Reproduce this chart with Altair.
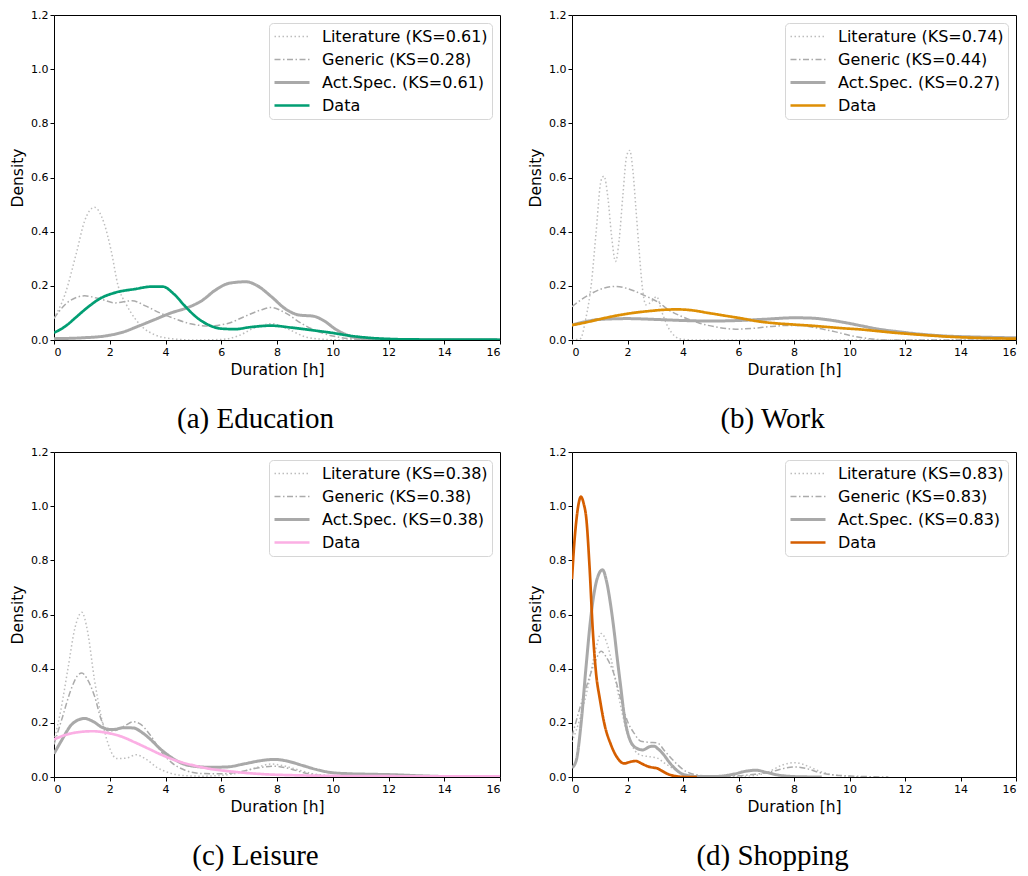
import altair as alt
import pandas as pd

# ---------------- data ----------------
# (a) Education
EDU_LIT_X = [0, 0.4, 0.8, 1.1, 1.45, 1.8, 2.05, 2.3, 2.6, 2.9, 3.2, 3.6, 4.2, 5.0, 6.0, 6.6, 7.2, 7.8, 8.4, 9.0, 9.6, 10.5, 16]
EDU_LIT_Y = [0.08, 0.17, 0.32, 0.44, 0.49, 0.43, 0.33, 0.2, 0.13, 0.08, 0.045, 0.02, 0.005, 0.0, 0.002, 0.015, 0.045, 0.06, 0.04, 0.012, 0.003, 0.0, 0.0]
EDU_GEN_X = [0, 0.5, 1.1, 1.7, 2.2, 2.8, 3.3, 3.8, 4.3, 4.9, 5.5, 6.2, 6.8, 7.4, 7.8, 8.3, 8.9, 9.5, 10.0, 10.6, 11.5, 16]
EDU_GEN_Y = [0.08, 0.14, 0.163, 0.15, 0.137, 0.145, 0.125, 0.1, 0.08, 0.06, 0.052, 0.06, 0.085, 0.11, 0.12, 0.1, 0.06, 0.03, 0.015, 0.005, 0.0, 0.0]
EDU_ACT_X = [0, 1.0, 1.9, 2.5, 3.0, 3.6, 4.2, 4.8, 5.3, 5.8, 6.3, 6.9, 7.3, 7.8, 8.3, 8.8, 9.3, 9.7, 10.1, 10.6, 11.2, 12.0, 16]
EDU_ACT_Y = [0.005, 0.008, 0.016, 0.03, 0.05, 0.075, 0.1, 0.12, 0.145, 0.185, 0.21, 0.215, 0.2, 0.16, 0.115, 0.092, 0.088, 0.07, 0.04, 0.015, 0.004, 0.0, 0.0]
EDU_DATA_X = [0, 0.4, 0.8, 1.2, 1.65, 2.2, 2.9, 3.5, 3.9, 4.3, 4.7, 5.1, 5.5, 6.0, 6.5, 7.0, 7.8, 8.5, 9.2, 10.0, 10.6, 11.2, 12.0, 13.0, 16]
EDU_DATA_Y = [0.027, 0.05, 0.085, 0.12, 0.153, 0.175, 0.188, 0.197, 0.197, 0.17, 0.125, 0.085, 0.058, 0.042, 0.04, 0.047, 0.053, 0.046, 0.037, 0.026, 0.016, 0.009, 0.004, 0.002, 0.001]

# (b) Work
WORK_LIT_X = [0, 0.3, 0.5, 0.7, 0.87, 1.05, 1.15, 1.3, 1.42, 1.57, 1.7, 1.83, 1.97, 2.08, 2.2, 2.3, 2.42, 2.54, 2.66, 2.85, 3.05, 3.25, 3.45, 3.7, 4.0, 4.5, 16]
WORK_LIT_Y = [0, 0.005, 0.08, 0.21, 0.4, 0.59, 0.605, 0.52, 0.39, 0.29, 0.37, 0.53, 0.68, 0.7, 0.62, 0.49, 0.33, 0.19, 0.13, 0.14, 0.16, 0.1, 0.05, 0.015, 0.002, 0.0, 0.0]
WORK_GEN_X = [0, 0.35, 0.7, 1.1, 1.55, 2.0, 2.6, 3.1, 3.5, 4.0, 4.6, 5.2, 5.9, 6.5, 7.2, 7.8, 8.3, 8.9, 9.5, 10.1, 10.7, 11.5, 16]
WORK_GEN_Y = [0.123, 0.15, 0.172, 0.19, 0.198, 0.19, 0.165, 0.14, 0.11, 0.085, 0.062, 0.048, 0.04, 0.043, 0.05, 0.054, 0.053, 0.043, 0.03, 0.015, 0.005, 0.0, 0.0]
WORK_ACT_X = [0, 0.5, 1.0, 2.0, 3.0, 4.0, 5.0, 6.0, 7.0, 8.0, 8.6, 9.2, 9.8, 10.4, 11.0, 11.8, 12.6, 13.4, 14.2, 15.0, 16]
WORK_ACT_Y = [0.055, 0.068, 0.076, 0.079, 0.076, 0.072, 0.07, 0.072, 0.077, 0.082, 0.081, 0.075, 0.065, 0.053, 0.041, 0.03, 0.021, 0.015, 0.012, 0.01, 0.008]
WORK_DATA_X = [0, 0.5, 1.0, 1.6, 2.2, 2.8, 3.4, 3.8, 4.3, 4.9, 5.5, 6.1, 6.7, 7.3, 8.0, 8.6, 9.2, 9.8, 10.4, 11.0, 11.6, 12.2, 13.0, 13.8, 14.6, 15.3, 16]
WORK_DATA_Y = [0.055, 0.065, 0.077, 0.09, 0.1, 0.107, 0.112, 0.113, 0.11, 0.1, 0.09, 0.08, 0.069, 0.062, 0.057, 0.053, 0.048, 0.043, 0.039, 0.033, 0.027, 0.022, 0.016, 0.011, 0.008, 0.006, 0.005]

# (c) Leisure
LEI_LIT_X = [0, 0.25, 0.5, 0.75, 1.0, 1.2, 1.45, 1.7, 1.95, 2.25, 2.6, 2.95, 3.3, 3.7, 4.15, 4.7, 5.3, 6.0, 6.6, 7.2, 7.8, 8.3, 8.8, 9.3, 9.9, 10.5, 16]
LEI_LIT_Y = [0.133, 0.25, 0.4, 0.55, 0.608, 0.54, 0.36, 0.22, 0.12, 0.068, 0.07, 0.082, 0.066, 0.035, 0.015, 0.005, 0.003, 0.006, 0.015, 0.033, 0.048, 0.04, 0.025, 0.012, 0.005, 0.0, 0.0]
LEI_GEN_X = [0, 0.3, 0.6, 0.85, 1.0, 1.2, 1.45, 1.7, 1.95, 2.2, 2.55, 2.85, 3.1, 3.45, 3.8, 4.2, 4.7, 5.3, 6.0, 6.7, 7.3, 7.9, 8.4, 9.0, 9.6, 10.3, 16]
LEI_GEN_Y = [0.12, 0.22, 0.32, 0.375, 0.384, 0.36, 0.3, 0.21, 0.17, 0.172, 0.19, 0.204, 0.195, 0.155, 0.1, 0.055, 0.025, 0.013, 0.012, 0.02, 0.033, 0.04, 0.032, 0.015, 0.005, 0.001, 0.0]
LEI_ACT_X = [0, 0.3, 0.6, 0.9, 1.1, 1.4, 1.75, 2.1, 2.5, 2.85, 3.15, 3.45, 3.8, 4.2, 4.6, 5.0, 5.6, 6.2, 6.8, 7.4, 7.9, 8.4, 8.9, 9.4, 9.9, 10.6, 11.5, 12.3, 13.0, 14.0, 16]
LEI_ACT_Y = [0.086, 0.14, 0.19, 0.212, 0.216, 0.205, 0.182, 0.175, 0.182, 0.181, 0.165, 0.14, 0.105, 0.073, 0.05, 0.04, 0.036, 0.037, 0.048, 0.06, 0.065, 0.058, 0.043, 0.028, 0.017, 0.012, 0.01, 0.008, 0.005, 0.002, 0.001]
LEI_DATA_X = [0, 0.5, 1.0, 1.4, 1.9, 2.4, 2.9, 3.4, 3.9, 4.4, 5.0, 5.6, 6.3, 7.0, 7.8, 8.8, 10.0, 12.0, 14.0, 16]
LEI_DATA_Y = [0.139, 0.158, 0.167, 0.169, 0.163, 0.15, 0.128, 0.104, 0.08, 0.06, 0.043, 0.03, 0.021, 0.014, 0.009, 0.006, 0.004, 0.003, 0.002, 0.002]

# (d) Shopping
SHOP_LIT_X = [0, 0.3, 0.57, 0.85, 1.05, 1.2, 1.4, 1.6, 1.8, 2.0, 2.25, 2.5, 2.8, 3.07, 3.35, 3.67, 4.0, 4.4, 5.0, 6.0, 6.6, 7.1, 7.6, 8.05, 8.5, 8.9, 9.4, 10.0, 10.5]
SHOP_LIT_Y = [0.13, 0.22, 0.33, 0.47, 0.53, 0.51, 0.44, 0.34, 0.24, 0.157, 0.1, 0.08, 0.075, 0.07, 0.05, 0.03, 0.012, 0.004, 0.001, 0.002, 0.006, 0.02, 0.045, 0.053, 0.04, 0.022, 0.008, 0.002, 0.0]
SHOP_GEN_X = [0, 0.3, 0.57, 0.85, 1.05, 1.25, 1.52, 1.75, 2.0, 2.25, 2.48, 2.8, 3.07, 3.35, 3.67, 4.0, 4.38, 5.0, 6.0, 6.6, 7.2, 7.7, 8.07, 8.5, 8.9, 9.4, 10.0, 10.8, 11.4]
SHOP_GEN_Y = [0.15, 0.26, 0.35, 0.43, 0.464, 0.44, 0.378, 0.29, 0.206, 0.16, 0.132, 0.128, 0.126, 0.095, 0.059, 0.028, 0.01, 0.003, 0.005, 0.01, 0.02, 0.033, 0.037, 0.03, 0.017, 0.008, 0.004, 0.001, 0.0]
SHOP_ACT_X = [0, 0.15, 0.33, 0.5, 0.69, 0.9, 1.1, 1.25, 1.4, 1.52, 1.64, 1.76, 1.88, 2.06, 2.3, 2.55, 2.8, 2.95, 3.1, 3.3, 3.5, 3.7, 4.0, 4.5, 5.2, 5.8, 6.3, 6.64, 7.0, 7.5, 8.2, 9.0]
SHOP_ACT_Y = [0.034, 0.06, 0.2, 0.4, 0.6, 0.73, 0.765, 0.72, 0.63, 0.537, 0.43, 0.33, 0.23, 0.145, 0.108, 0.1, 0.112, 0.114, 0.104, 0.083, 0.055, 0.032, 0.01, 0.002, 0.002, 0.01, 0.022, 0.025, 0.017, 0.006, 0.001, 0.0]
SHOP_DATA_X = [0, 0.08, 0.16, 0.24, 0.32, 0.42, 0.52, 0.63, 0.75, 0.87, 1.0, 1.17, 1.4, 1.64, 1.88, 2.1, 2.3, 2.5, 2.71, 2.9, 3.07, 3.25, 3.43, 3.6, 3.8, 4.1, 4.5]
SHOP_DATA_Y = [0.73, 0.86, 0.95, 1.01, 1.035, 1.01, 0.95, 0.78, 0.54, 0.38, 0.29, 0.195, 0.12, 0.07, 0.05, 0.056, 0.059, 0.05, 0.04, 0.035, 0.032, 0.022, 0.012, 0.006, 0.002, 0.0, 0.0]

KS_EDU = ["0.61", "0.28", "0.61"]
KS_WORK = ["0.74", "0.44", "0.27"]
KS_LEI = ["0.38", "0.38", "0.38"]
KS_SHOP = ["0.83", "0.83", "0.83"]

CAPTIONS = ["(a) Education", "(b) Work", "(c) Leisure", "(d) Shopping"]
DATA_COLORS = ["#029e73", "#de8f05", "#fbafe4", "#d55e00"]

X_TICKS = list(range(0, 17, 2))
Y_TICKS = [0.0, 0.2, 0.4, 0.6, 0.8, 1.0, 1.2]

GRAY_LIT = "#bdbdbd"
GRAY_GEN = "#ababab"
GRAY_ACT = "#a9a9a9"
DASHES = [[1.5, 2.5], [6, 2.5, 1.5, 2.5], [1, 0], [1, 0]]
WIDTHS = [1.5, 1.5, 3.0, 2.7]

FONT = "DejaVu Sans"


def panel(ks, series, data_color, caption, width):
    labels = [
        f"Literature (KS={ks[0]})",
        f"Generic (KS={ks[1]})",
        f"Act.Spec. (KS={ks[2]})",
        "Data",
    ]
    colors = [GRAY_LIT, GRAY_GEN, GRAY_ACT, data_color]
    legend = alt.Legend(
        orient="top-right",
        offset=8,
        symbolType="stroke",
        symbolSize=1225,
        clipHeight=19,
        labelFontSize=16,
        labelFont=FONT,
        labelColor="#000000",
        labelLimit=400,
        labelOffset=11,
        rowPadding=4,
        padding=4,
        strokeColor="#d6d6d6",
        cornerRadius=4,
        fillColor="#ffffff",
    )
    layers = []
    for lab, (xs, ys) in zip(labels, series):
        df = pd.DataFrame({"x": xs, "y": ys, "s": lab})
        layers.append(
            alt.Chart(df)
            .mark_line(interpolate="monotone", clip=True)
            .encode(
                x=alt.X(
                    "x:Q",
                    scale=alt.Scale(domain=[0, 16], nice=False, zero=False),
                    axis=alt.Axis(values=X_TICKS, title="Duration [h]"),
                ),
                y=alt.Y(
                    "y:Q",
                    scale=alt.Scale(domain=[0, 1.2], nice=False),
                    axis=alt.Axis(values=Y_TICKS, format=".1f", title="Density"),
                ),
                color=alt.Color("s:N", title=None,
                                scale=alt.Scale(type="ordinal", domain=labels, range=colors), legend=legend),
                strokeDash=alt.StrokeDash("s:N", title=None,
                                          scale=alt.Scale(type="ordinal", domain=labels, range=DASHES), legend=legend),
                strokeWidth=alt.StrokeWidth("s:N", title=None,
                                            scale=alt.Scale(type="ordinal", domain=labels, range=WIDTHS), legend=legend),
            )
        )
    return alt.layer(*layers).properties(
        width=width,
        height=325,
        title=alt.TitleParams(
            caption,
            orient="bottom",
            anchor="middle",
            frame="bounds",
            font="Liberation Serif",
            fontSize=29,
            fontWeight="normal",
            color="#000000",
            offset=27,
        ),
    )


pa = panel(KS_EDU, [(EDU_LIT_X, EDU_LIT_Y), (EDU_GEN_X, EDU_GEN_Y), (EDU_ACT_X, EDU_ACT_Y), (EDU_DATA_X, EDU_DATA_Y)], DATA_COLORS[0], CAPTIONS[0], 446)
pb = panel(KS_WORK, [(WORK_LIT_X, WORK_LIT_Y), (WORK_GEN_X, WORK_GEN_Y), (WORK_ACT_X, WORK_ACT_Y), (WORK_DATA_X, WORK_DATA_Y)], DATA_COLORS[1], CAPTIONS[1], 444)
pc = panel(KS_LEI, [(LEI_LIT_X, LEI_LIT_Y), (LEI_GEN_X, LEI_GEN_Y), (LEI_ACT_X, LEI_ACT_Y), (LEI_DATA_X, LEI_DATA_Y)], DATA_COLORS[2], CAPTIONS[2], 446)
pd_ = panel(KS_SHOP, [(SHOP_LIT_X, SHOP_LIT_Y), (SHOP_GEN_X, SHOP_GEN_Y), (SHOP_ACT_X, SHOP_ACT_Y), (SHOP_DATA_X, SHOP_DATA_Y)], DATA_COLORS[3], CAPTIONS[3], 444)

RES = dict(color="independent", strokeDash="independent", strokeWidth="independent")
row1 = alt.hconcat(pa, pb, spacing=27).resolve_scale(**RES).resolve_legend(**RES)
row2 = alt.hconcat(pc, pd_, spacing=27).resolve_scale(**RES).resolve_legend(**RES)

chart = (
    alt.vconcat(row1, row2, spacing=11)
    .resolve_scale(**RES)
    .resolve_legend(**RES)
    .properties(padding={"left": 10, "top": 8, "right": 0, "bottom": 0}, background="#ffffff")
    .configure_view(stroke="#000000", strokeWidth=1)
    .configure_axis(
        grid=False,
        domain=False,
        tickColor="#000000",
        tickSize=4,
        labelFont=FONT,
        labelFontSize=11,
        labelColor="#000000",
        labelPadding=2,
        titleFont=FONT,
        titleFontSize=15.5,
        titleFontWeight="normal",
        titleColor="#000000",
        titlePadding=5,
    )
)

chart.save("out.html", embed_options={"renderer": "svg", "actions": False})
